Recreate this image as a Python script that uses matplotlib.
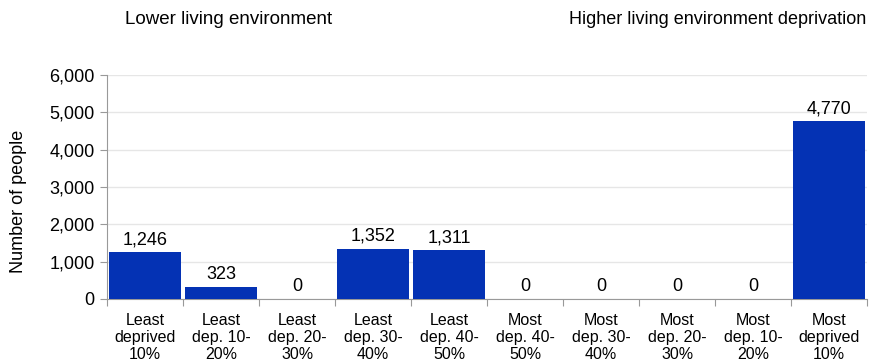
import matplotlib
matplotlib.use("Agg")
import matplotlib.pyplot as plt
import numpy as np

plt.rcParams['font.family'] = ['Liberation Sans', 'DejaVu Sans']

categories = ["Least\ndeprived\n10%", "Least\ndep. 10-\n20%", "Least\ndep. 20-\n30%",
              "Least\ndep. 30-\n40%", "Least\ndep. 40-\n50%", "Most\ndep. 40-\n50%",
              "Most\ndep. 30-\n40%", "Most\ndep. 20-\n30%", "Most\ndep. 10-\n20%",
              "Most\ndeprived\n10%"]
values = [1246, 323, 0, 1352, 1311, 0, 0, 0, 0, 4770]
yticks = [0, 1000, 2000, 3000, 4000, 5000, 6000]

fig = plt.figure(figsize=(8.7, 3.64), dpi=100)
ax = fig.add_axes([0.123, 0.1786, 0.8736, 0.6154])

x = np.arange(len(categories))
ax.bar(x, values, width=0.95, color='#0432B4', zorder=3)
for xi, v in zip(x, values):
    ax.text(xi, v + 100, f"{v:,}", ha='center', va='bottom', fontsize=13, color='black')

ax.set_xlim(-0.5, len(categories) - 0.5)
ax.set_ylim(0, 6000)
ax.set_yticks(yticks)
ax.set_yticklabels([f"{t:,}" for t in yticks], fontsize=13)
ax.yaxis.grid(True, color='#E6E6E6', linewidth=1, zorder=0)
ax.set_axisbelow(True)

ax.set_xticks(np.arange(-0.5, len(categories), 1))
ax.set_xticklabels([])
ax.set_xticks(x, minor=True)
ax.set_xticklabels(categories, minor=True, fontsize=11.5, linespacing=1.17)
ax.tick_params(axis='x', which='minor', length=0, pad=10)
ax.tick_params(axis='x', which='major', length=5, color='#999999', direction='out')
ax.tick_params(axis='y', length=5, color='#999999', pad=4)

for s in ['top', 'right']:
    ax.spines[s].set_visible(False)
ax.spines['left'].set_color('#999999')
ax.spines['bottom'].set_color('#999999')

ax.set_ylabel("Number of people", fontsize=13)
ax.yaxis.set_label_coords(-0.105, 0.4375)

fig.text(125 / 870, 1 - 19 / 364, "Lower living environment", fontsize=13.5, ha='left', va='center')
fig.text(866 / 870, 1 - 19 / 364, "Higher living environment deprivation", fontsize=13, ha='right', va='center')

fig.savefig("out.png", dpi=100)
